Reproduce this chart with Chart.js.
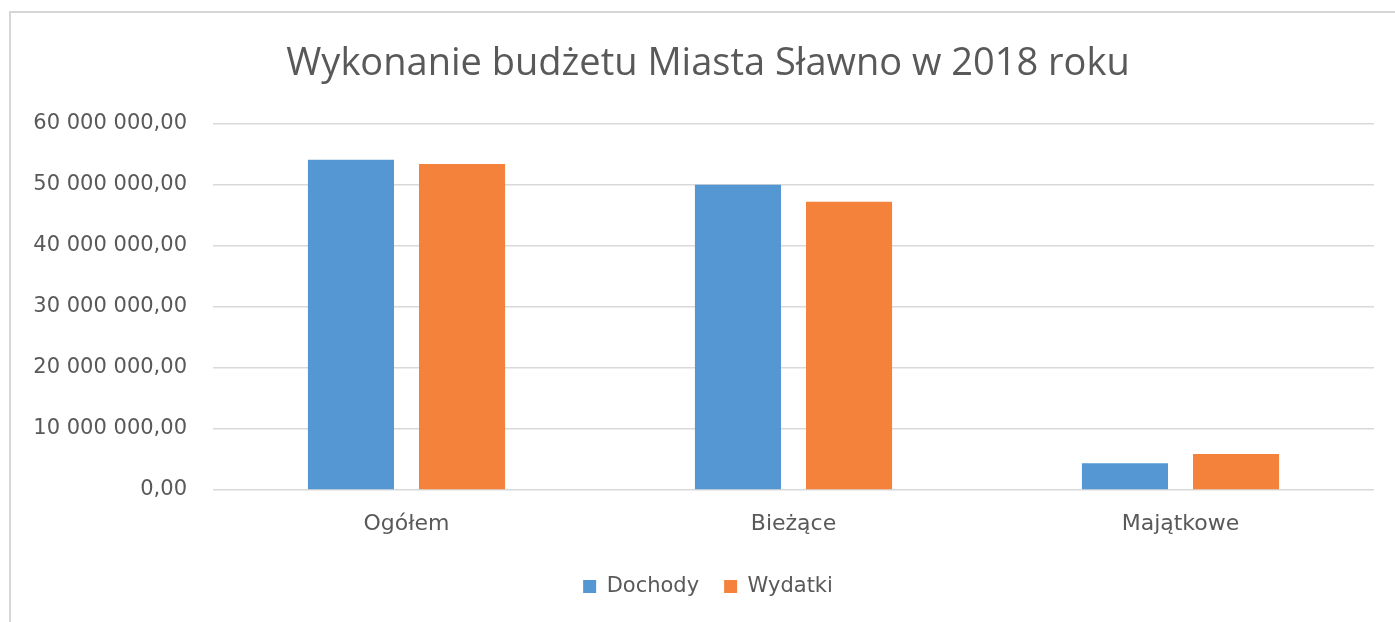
<!DOCTYPE html>
<html>
<head>
<meta charset="utf-8">
<script src="https://cdn.jsdelivr.net/npm/chart.js@4"></script>
<style>
  body { margin: 0; background: #fff; }
  #wrap { position: relative; width: 1395px; height: 622px; }
  #frame { position: absolute; left: 9px; top: 11px; width: 1386px; height: 611px;
           border-left: 2px solid #d6d6d6; border-top: 2px solid #d6d6d6; box-sizing: border-box; }
  canvas { position: absolute; left: 0; top: 0; }
</style>
</head>
<body>
<div id="wrap">
  <div id="frame"></div>
  <canvas id="budgetChart" width="1395" height="622"></canvas>
</div>
<script>
// --- DATA ---
const categories = ['Ogółem', 'Bieżące', 'Majątkowe'];
const dochody = [54100000, 49970000, 4400000];
const wydatki = [53400000, 47200000, 5900000];
const seriesNames = ['Dochody', 'Wydatki'];
const yTicks = [0, 10000000, 20000000, 30000000, 40000000, 50000000, 60000000];

const textColor = '#595959';
const titleFont = '"Open Sans", sans-serif';
const labelFont = '"DejaVu Sans", sans-serif';

// 60000000 -> "60 000 000,00"
function plMoney(v) {
    const s = Math.round(v).toString().replace(/\B(?=(\d{3})+(?!\d))/g, ' ');
    return s + ',00';
}

const ctx = document.getElementById('budgetChart').getContext('2d');
const budgetChart = new Chart(ctx, {
    type: 'bar',
    data: {
        labels: categories,
        datasets: [
            { label: seriesNames[0], data: dochody, backgroundColor: '#5597d3' },
            { label: seriesNames[1], data: wydatki, backgroundColor: '#f4823a' }
        ]
    },
    options: {
        responsive: false,
        animation: false,
        categoryPercentage: 0.574,
        barPercentage: 0.775,
        layout: { padding: { left: 42, right: 21, top: 11, bottom: 15 } },
        plugins: {
            title: {
                display: true,
                text: 'Wykonanie budżetu Miasta Sławno w 2018 roku',
                color: textColor,
                font: { family: titleFont, size: 38, weight: 'normal' },
                padding: { top: 30, bottom: 37 }
            },
            legend: {
                position: 'bottom',
                labels: {
                    color: textColor,
                    font: { family: labelFont, size: 21 },
                    boxWidth: 13,
                    boxHeight: 13,
                    padding: 25
                }
            },
            tooltip: { enabled: false }
        },
        scales: {
            x: {
                grid: { display: false, drawTicks: false },
                border: { display: false },
                ticks: { color: textColor, font: { family: labelFont, size: 22 }, padding: 21 },
                afterFit: s => { s.height = 61; }
            },
            y: {
                min: 0,
                max: 60000000,
                afterBuildTicks: s => { s.ticks = yTicks.map(v => ({ value: v })); },
                grid: { color: '#d9d9d9', lineWidth: 1.5, drawTicks: false },
                border: { display: false },
                ticks: {
                    color: textColor,
                    font: { family: labelFont, size: 21 },
                    padding: 26,
                    callback: v => plMoney(v)
                },
                afterFit: s => {
                    s.width = 171;
                    // labels are wider than the axis box here, so don't clip them
                    s._computeLabelArea = () => undefined;
                }
            }
        }
    }
});
</script>
</body>
</html>
